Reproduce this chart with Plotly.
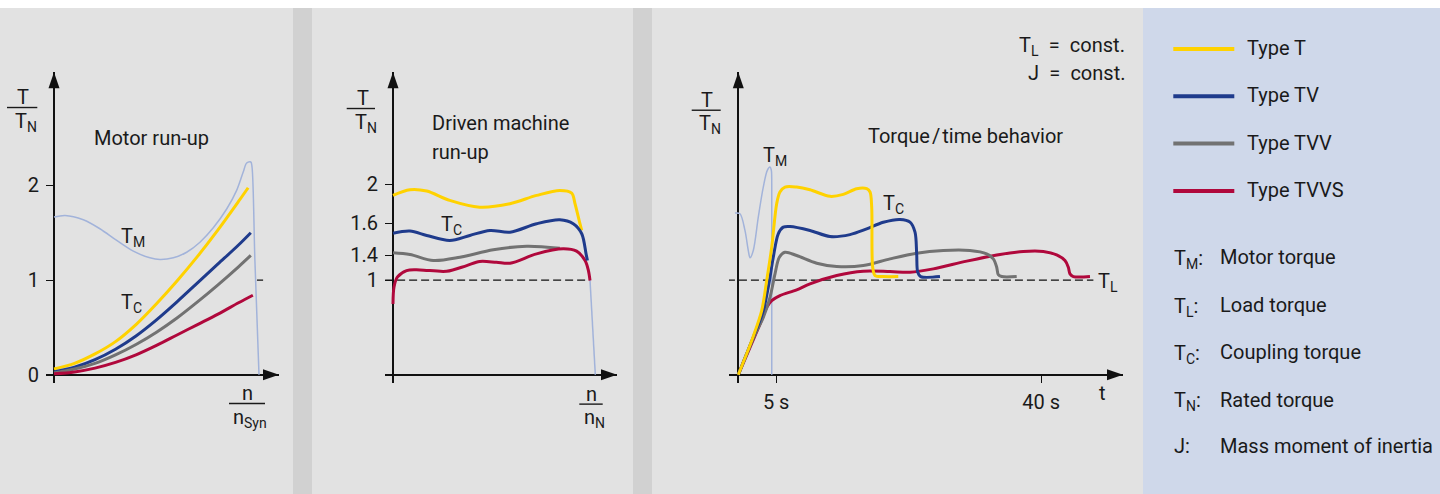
import plotly.graph_objects as go

W, H = 1440, 494        # reference picture size (all pixel positions below are in this frame)
FIG_H = 499             # figure height (the photographed window is slightly taller than the picture)

# ---------------- data ----------------
# Panel 1: Motor run-up  (x = n / n_Syn, y = T / T_N)
P1_TM_X = [0, 0.054, 0.143, 0.224, 0.306, 0.387, 0.468, 0.517, 0.582, 0.647, 0.712, 0.777, 0.843, 0.891, 0.923, 0.940, 0.960, 0.966, 0.980, 1.0]
P1_TM_Y = [1.665, 1.683, 1.637, 1.542, 1.418, 1.305, 1.235, 1.217, 1.235, 1.294, 1.400, 1.552, 1.753, 1.947, 2.141, 2.236, 2.247, 2.194, 1.206, 0.0]

P1_T_X = [0, 0.1, 0.2, 0.3, 0.4, 0.5, 0.6, 0.7, 0.8, 0.9, 0.947]
P1_T_Y = [0.06, 0.12, 0.22, 0.35, 0.53, 0.75, 0.99, 1.25, 1.53, 1.83, 1.975]
P1_TV_X = [0, 0.1, 0.2, 0.3, 0.4, 0.5, 0.6, 0.7, 0.8, 0.9, 0.96]
P1_TV_Y = [0.03, 0.08, 0.16, 0.27, 0.41, 0.58, 0.77, 0.97, 1.17, 1.37, 1.50]
P1_TVV_X = [0, 0.1, 0.2, 0.3, 0.4, 0.5, 0.6, 0.7, 0.8, 0.9, 0.96]
P1_TVV_Y = [0.02, 0.06, 0.12, 0.21, 0.32, 0.45, 0.60, 0.77, 0.95, 1.14, 1.26]
P1_TVVS_X = [0, 0.1, 0.2, 0.3, 0.4, 0.5, 0.6, 0.7, 0.8, 0.9, 0.97]
P1_TVVS_Y = [0.01, 0.03, 0.07, 0.13, 0.21, 0.31, 0.42, 0.53, 0.64, 0.76, 0.84]
P1_MARK_X = [0.99, 1.02]

# Panel 2: Driven machine run-up  (x = n / n_N)
P2_Y_TICKVALS = [1.0, 1.26, 1.6, 2.01]
P2_Y_TICKTEXT = ["1", "1.4", "1.6", "2"]
P2_T_X = [0, 0.086, 0.171, 0.288, 0.44, 0.593, 0.729, 0.847, 0.907, 0.924, 0.949, 0.958]
P2_T_Y = [1.894, 1.954, 1.94, 1.841, 1.77, 1.806, 1.894, 1.947, 1.919, 1.806, 1.595, 1.524]
P2_TV_X = [0, 0.086, 0.171, 0.288, 0.39, 0.492, 0.594, 0.729, 0.847, 0.915, 0.958, 0.98, 0.987]
P2_TV_Y = [1.495, 1.517, 1.471, 1.418, 1.471, 1.524, 1.506, 1.595, 1.637, 1.595, 1.489, 1.277, 1.206]
P2_TVV_X = [0, 0.086, 0.205, 0.34, 0.509, 0.679, 0.847]
P2_TVV_Y = [1.288, 1.27, 1.206, 1.241, 1.32, 1.358, 1.337]
P2_TVVS_X = [0, 0.005, 0.022, 0.069, 0.137, 0.272, 0.374, 0.44, 0.525, 0.594, 0.729, 0.864, 0.932, 0.975, 0.992, 1.0]
P2_TVVS_Y = [0.748, 0.924, 1.03, 1.10, 1.107, 1.093, 1.153, 1.196, 1.188, 1.178, 1.277, 1.33, 1.305, 1.206, 1.10, 0.995]
P2_TM_X = [1.0, 1.027]
P2_TM_Y = [1.0, 0.0]
P2_TL_X = [-0.04, 1.0]

# Panel 3: Torque / time behavior  (x = t in s)
P3_X_TICKVALS = [5, 40]
P3_X_TICKTEXT = ["5 s", "40 s"]
P3_TM_T = [-0.44, 0.22, 0.88, 1.32, 1.55, 1.98, 2.64, 3.3, 3.83, 4.19, 4.36, 4.42, 4.42]
P3_TM_Y = [1.707, 1.70, 1.524, 1.312, 1.235, 1.312, 1.665, 1.982, 2.159, 2.194, 2.16, 2.0, 0.0]
P3_T_T = [0, 1.0, 2.0, 3.09, 3.75, 4.41, 5.07, 5.5, 6.17, 7.71, 9.47, 12.11, 13.87, 15.64, 16.96, 17.4, 17.62, 17.75, 18.06, 19.15, 21.13]
P3_T_Y = [0, 0.2, 0.41, 0.677, 0.995, 1.347, 1.806, 1.93, 1.982, 1.982, 1.954, 1.884, 1.905, 1.965, 1.965, 1.93, 1.77, 1.136, 1.048, 1.037, 1.037]
P3_TV_T = [0, 1.0, 2.0, 3.3, 3.96, 4.62, 5.28, 5.94, 6.83, 9.47, 12.11, 14.75, 16.96, 19.15, 21.36, 22.68, 23.34, 23.56, 23.7, 24.09, 26.64]
P3_TV_Y = [0, 0.2, 0.4, 0.677, 0.924, 1.241, 1.489, 1.559, 1.566, 1.524, 1.46, 1.48, 1.54, 1.61, 1.64, 1.612, 1.506, 1.277, 1.083, 1.037, 1.037]
P3_TVV_T = [0, 1.0, 2.0, 3.3, 4.19, 4.85, 5.42, 6.17, 7.71, 10.36, 13.0, 16.51, 20.04, 23.56, 27.08, 30.6, 32.8, 33.68, 34.13, 34.34, 34.79, 36.77]
P3_TVV_Y = [0, 0.2, 0.39, 0.606, 0.818, 1.066, 1.241, 1.294, 1.259, 1.178, 1.143, 1.153, 1.224, 1.284, 1.312, 1.312, 1.277, 1.224, 1.136, 1.058, 1.037, 1.037]
P3_TVVS_T = [0, 1.55, 2.87, 3.75, 4.41, 5.5, 7.71, 9.47, 13.0, 16.51, 20.04, 22.68, 25.76, 30.17, 34.57, 37.64, 40.29, 42.05, 43.15, 43.59, 43.81, 44.25, 46.45]
P3_TVVS_Y = [0, 0.29, 0.536, 0.712, 0.783, 0.836, 0.896, 0.96, 1.048, 1.094, 1.09, 1.083, 1.118, 1.2, 1.27, 1.302, 1.302, 1.266, 1.206, 1.136, 1.065, 1.037, 1.037]
P3_TL_T = [-1.5, 46.9]

TL_VALUE = 1.0

SERIES = ["Type T", "Type TV", "Type TVV", "Type TVVS"]
COLORS = {"Type T": "#ffd200", "Type TV": "#1f3b8c", "Type TVV": "#727272", "Type TVVS": "#b0083c"}
TM_COLOR = "#a2b3da"
LEGEND_NOTES = [("T<sub>M</sub>:", "Motor torque"), ("T<sub>L</sub>:", "Load torque"),
                ("T<sub>C</sub>:", "Coupling torque"), ("T<sub>N</sub>:", "Rated torque"),
                ("J:", "Mass moment of inertia")]

# ---------------- styling ----------------
FONT = "Roboto, 'Liberation Sans', Arial, sans-serif"
FS = 20
TXT = "#1a1a1a"
AX = "#111111"
PANEL_BG = "#e2e2e2"
SEP_BG = "#d1d1d1"
LEG_BG = "#cfd8ea"
Y0_PX, Y_SCALE, Y_DOM = 374.0, 94.5, (382.0, 72.0)

fig = go.Figure()

def add_curve(x, y, color, width, axis, shape="spline", dash=None):
    fig.add_trace(go.Scatter(x=x, y=y, mode="lines", xaxis="x" + axis, yaxis="y" + axis,
                             line=dict(color=color, width=width, shape=shape, smoothing=0.9, dash=dash),
                             hoverinfo="skip", showlegend=False))

def axes(i, x0px, xscale, xdom, **kw):
    suf = "" if i == 1 else str(i)
    xr = [(xdom[0] - x0px) / xscale, (xdom[1] - x0px) / xscale]
    yr = [(Y0_PX - Y_DOM[0]) / Y_SCALE, (Y0_PX - Y_DOM[1]) / Y_SCALE]
    base = dict(showgrid=False, zeroline=True, zerolinecolor=AX, zerolinewidth=1.5, showline=False,
                tickfont=dict(family=FONT, size=FS, color=TXT), tickcolor=AX, tickwidth=1.4, fixedrange=True)
    xa = dict(base, domain=[xdom[0] / W, xdom[1] / W], range=xr, anchor="y" + suf)
    ya = dict(base, domain=[1 - Y_DOM[0] / H, 1 - Y_DOM[1] / H], range=yr, anchor="x" + suf)
    xa.update(kw.get("x", {}))
    ya.update(kw.get("y", {}))
    fig.update_layout(**{"xaxis" + suf: xa, "yaxis" + suf: ya})
    # arrowheads
    for (xa_v, ya_v, path) in [(0, yr[1], "M0,0 L-5.5,-16 L5.5,-16 Z"), (xr[1], 0, "M0,0 L-16,5.5 L-16,-5.5 Z")]:
        fig.add_shape(type="path", xref="x" + suf, yref="y" + suf, xsizemode="pixel", ysizemode="pixel",
                      xanchor=xa_v, yanchor=ya_v, path=path, fillcolor=AX, line=dict(width=0), layer="above")

hide = dict(showticklabels=False, ticks="")

axes(1, 54, 205, (46, 279), x=hide,
     y=dict(tickmode="array", tickvals=[0, 1, 2], ticktext=["0", "1", "2"], ticks="inside", ticklen=8, ticklabelstandoff=6))
axes(2, 393, 197, (385, 617), x=hide,
     y=dict(tickmode="array", tickvals=P2_Y_TICKVALS, ticktext=P2_Y_TICKTEXT, ticks="inside", ticklen=8, ticklabelstandoff=6))
axes(3, 738.3, 7.571, (729, 1123), y=hide,
     x=dict(tickmode="array", tickvals=P3_X_TICKVALS, ticktext=P3_X_TICKTEXT, ticks="inside", ticklen=8, ticklabelstandoff=5))

# ---------------- backgrounds ----------------
def rect(x0, x1, y0, y1, color):
    fig.add_shape(type="rect", xref="paper", yref="paper", x0=x0 / W, x1=x1 / W, y0=1 - y1 / H, y1=1 - y0 / H,
                  fillcolor=color, line=dict(width=0), layer="below")

rect(0, 1143, 8, 494, PANEL_BG)
rect(293, 312, 8, 494, SEP_BG)
rect(633, 652, 8, 494, SEP_BG)
rect(1143, 1440, 8, 494, LEG_BG)

# ---------------- curves ----------------
# panel 1
add_curve(P1_TM_X, P1_TM_Y, TM_COLOR, 1.5, "")
for name, xs, ys in [("Type T", P1_T_X, P1_T_Y), ("Type TV", P1_TV_X, P1_TV_Y),
                     ("Type TVV", P1_TVV_X, P1_TVV_Y), ("Type TVVS", P1_TVVS_X, P1_TVVS_Y)]:
    add_curve(xs, ys, COLORS[name], 3, "")
add_curve(P1_MARK_X, [TL_VALUE, TL_VALUE], AX, 1.3, "", shape="linear")

# panel 2
add_curve(P2_TL_X, [TL_VALUE, TL_VALUE], AX, 1.3, "2", shape="linear", dash="8px,4px")
add_curve(P2_TM_X, P2_TM_Y, TM_COLOR, 1.5, "2", shape="linear")
for name, xs, ys in [("Type TVV", P2_TVV_X, P2_TVV_Y), ("Type TVVS", P2_TVVS_X, P2_TVVS_Y),
                     ("Type T", P2_T_X, P2_T_Y), ("Type TV", P2_TV_X, P2_TV_Y)]:
    add_curve(xs, ys, COLORS[name], 3, "2")

# panel 3
add_curve(P3_TL_T, [TL_VALUE, TL_VALUE], AX, 1.3, "3", shape="linear", dash="8px,4px")
add_curve(P3_TM_T, P3_TM_Y, TM_COLOR, 1.5, "3")
for name, xs, ys in [("Type TVVS", P3_TVVS_T, P3_TVVS_Y), ("Type TVV", P3_TVV_T, P3_TVV_Y),
                     ("Type TV", P3_TV_T, P3_TV_Y), ("Type T", P3_T_T, P3_T_Y)]:
    add_curve(xs, ys, COLORS[name], 3, "3")

# ---------------- text ----------------
def txt(px, py, s, xanchor="left", size=FS):
    fig.add_annotation(x=px / W, y=1 - py / H, xref="paper", yref="paper", text=s, showarrow=False,
                       xanchor=xanchor, yanchor="middle", font=dict(family=FONT, size=size, color=TXT))

def hl(x0, x1, y, color=TXT, width=1.4):
    fig.add_shape(type="line", xref="paper", yref="paper", x0=x0 / W, x1=x1 / W, y0=1 - y / H, y1=1 - y / H,
                  line=dict(color=color, width=width))

def fraction(xc, y_line, x0, x1, num, den):
    txt(xc, y_line - 10, num, "center")
    txt(xc + 3, y_line + 14, den, "center")
    hl(x0, x1, y_line)

EN = "\u2002"

# panel 1
fraction(23, 107.3, 7, 37.3, "T", "T<sub>N</sub>")
txt(92, 138, "Motor run-up")
txt(119, 237, "T<sub>M</sub>")
txt(119, 302, "T<sub>C</sub>")
fraction(247, 402.7, 229, 265, "n", "n<sub>Syn</sub>")

# panel 2
fraction(362.5, 108.3, 346.7, 375, "T", "T<sub>N</sub>")
txt(430, 122.5, "Driven machine")
txt(430, 151.5, "run-up")
txt(439, 225, "T<sub>C</sub>")
fraction(591, 403.3, 579.3, 602.7, "n", "n<sub>N</sub>")

# panel 3
txt(1127, 46, "T<sub>L</sub>" + EN + "=" + EN + "const.", "right")
txt(1127, 73, "J" + EN + "=" + EN + "const.", "right")
fraction(706.7, 110, 691.7, 720.7, "T", "T<sub>N</sub>")
txt(866, 136, "Torque\u200a/\u200atime behavior")
txt(761, 156, "T<sub>M</sub>")
txt(881, 204, "T<sub>C</sub>")
txt(1096, 281, "T<sub>L</sub>")
txt(1102.5, 392.5, "t", "center")

# legend panel
LEG_Y = [49, 96, 143.3, 190.7]
for name, y in zip(SERIES, LEG_Y):
    hl(1173.3, 1234.3, y, COLORS[name], 4)
    txt(1245, y - 1, name)
NOTE_Y = [256.7, 304.7, 351.3, 398.7, 445]
for (sym, desc), y in zip(LEGEND_NOTES, NOTE_Y):
    txt(1172, y + 1.5 if "sub" in sym else y, sym)
    txt(1218, y, desc)

fig.update_layout(width=W, height=FIG_H, margin=dict(l=0, r=0, t=0, b=0), autosize=False,
                  paper_bgcolor="white", plot_bgcolor="rgba(0,0,0,0)", showlegend=False)

POST = ("document.documentElement.style.overflow='hidden';"
        "document.body.style.margin='0px';document.body.style.overflow='hidden';"
        "var gd=document.getElementById('{plot_id}');"
        "gd.style.display='block';gd.style.lineHeight='0';gd.style.overflow='hidden';")

fig.write_html("out.html", config={"displayModeBar": False, "responsive": False}, post_script=POST)
